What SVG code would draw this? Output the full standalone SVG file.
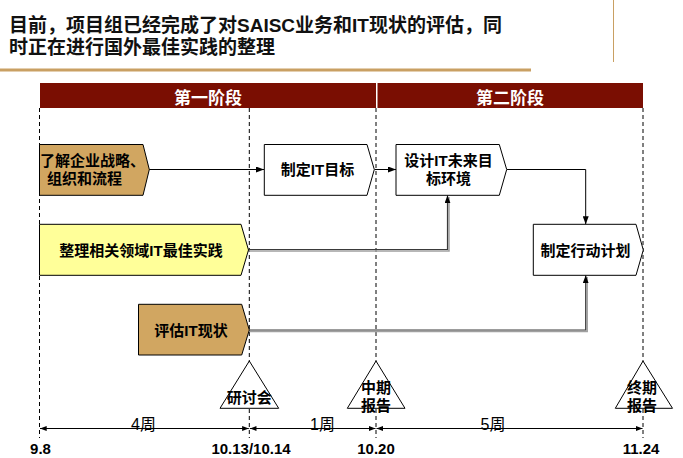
<svg xmlns="http://www.w3.org/2000/svg" width="683" height="458" viewBox="0 0 683 458">
<defs>
<style>
text{font-family:"Liberation Sans","Noto Sans CJK SC",sans-serif;fill:#000}
.b{font-weight:bold}
.title{font-size:19px;font-weight:bold;fill:#111}
.ph{font-size:17px;font-weight:bold;fill:#fff;text-anchor:middle}
.nt{font-size:15px;font-weight:bold;text-anchor:middle}
.mt{font-size:15px;font-weight:bold;text-anchor:middle}
.dt{font-size:15px;font-weight:bold;text-anchor:middle}
.wk{font-size:16px;text-anchor:middle}
.dash{stroke:#000;stroke-width:1;stroke-dasharray:4 3;fill:none}
.node{stroke:#000;stroke-width:1}
.tan{fill:#D1A661}
.yel{fill:#FFFF99}
.wht{fill:#fff}
.conn{stroke:#000;stroke-width:1;fill:none}
.gconn{stroke:#3a3a3a;stroke-width:1.2;fill:none}
.shadow{stroke:#a0a0a0;stroke-width:1.5;fill:none}
.dim{stroke:#000;stroke-width:1;fill:none;marker-start:url(#dimhead);marker-end:url(#dimhead)}
</style>
<marker id="arrow" viewBox="0 0 8 6" refX="8" refY="3" markerWidth="8" markerHeight="6" markerUnits="userSpaceOnUse" orient="auto">
<path d="M0,0 L8,3 L0,6 Z" fill="#000"/>
</marker>
<marker id="dimhead" viewBox="0 0 8 6" refX="8" refY="3" markerWidth="7" markerHeight="5" markerUnits="userSpaceOnUse" orient="auto-start-reverse">
<path d="M0,0 L8,3 L0,6 Z" fill="#000"/>
</marker>
</defs>
<rect width="683" height="458" fill="#fff"/>

<g id="header">
<text class="title" x="9" y="32">目前，项目组已经完成了对SAISC业务和IT现状的评估，同</text>
<text class="title" x="9" y="54">时正在进行国外最佳实践的整理</text>
<line x1="0" y1="70" x2="531" y2="70" stroke="#C9A063" stroke-width="3"/>
<line x1="613.5" y1="0" x2="613.5" y2="62" stroke="#C9A063" stroke-width="1"/>
</g>

<g id="phases">
<g id="phase1">
<rect x="40" y="83" width="336" height="25" fill="#7A0E02"/>
<text class="ph" x="208" y="103.5">第一阶段</text>
</g>
<g id="phase2">
<rect x="377.5" y="83" width="265.5" height="25" fill="#7A0E02"/>
<text class="ph" x="510" y="103.5">第二阶段</text>
</g>
</g>

<g id="gridlines">
<line class="dash" x1="39.5" y1="108" x2="39.5" y2="438"/>
<line class="dash" x1="249.3" y1="108" x2="249.3" y2="438"/>
<line class="dash" x1="376" y1="108" x2="376" y2="438"/>
<line class="dash" x1="643" y1="108" x2="643" y2="438"/>
</g>

<g id="connectors">
<line class="conn" x1="149" y1="169.5" x2="264" y2="169.5" marker-end="url(#arrow)"/>
<line class="conn" x1="374.5" y1="169.5" x2="396" y2="169.5" marker-end="url(#arrow)"/>
<polyline class="conn" points="507,169.5 585.7,169.5 585.7,224.3" marker-end="url(#arrow)"/>
<polyline class="shadow" points="248.5,251 449,251 449,197"/>
<polyline class="gconn" points="248.5,249.5 447.5,249.5 447.5,195.3" marker-end="url(#arrow)"/>
<polyline class="shadow" points="249.5,331.5 587.2,331.5 587.2,277"/>
<polyline class="gconn" points="249.5,330 585.7,330 585.7,275.3" marker-end="url(#arrow)"/>
</g>

<g id="node-strategy">
<path class="node tan" d="M39.5,144.5 H143 L149.3,169.5 L143,195.3 H39.5 Z"/>
<text class="nt" x="40" y="166" style="text-anchor:start">了解企业战略、</text>
<text class="nt" x="84.5" y="184">组织和流程</text>
</g>

<g id="node-best-practice">
<path class="node yel" d="M39.5,224.3 H241 L248.5,250 L241,275.3 H39.5 Z"/>
<text class="nt" x="141" y="255.5">整理相关领域IT最佳实践</text>
</g>

<g id="node-assess">
<path class="node tan" d="M138.5,304.3 H241.7 L249.3,330 L241.7,355 H138.5 Z"/>
<text class="nt" x="191" y="335.5">评估IT现状</text>
</g>

<g id="node-it-goal">
<path class="node wht" d="M264.3,144.5 H367 L374.3,169.5 L367,195.3 H264.3 Z"/>
<text class="nt" x="317.5" y="175">制定IT目标</text>
</g>

<g id="node-it-future">
<path class="node wht" d="M396,144.5 H499.3 L506.7,169.5 L499.3,195.3 H396 Z"/>
<text class="nt" x="448.5" y="166">设计IT未来目</text>
<text class="nt" x="448.5" y="184">标环境</text>
</g>

<g id="node-action-plan">
<path class="node wht" d="M533.3,224.3 H636 L643.3,250 L636,275.3 H533.3 Z"/>
<text class="nt" x="585.5" y="256">制定行动计划</text>
</g>

<g id="milestone-workshop">
<path class="node wht" d="M249.3,361 L278.7,408.3 H220 Z"/>
<text class="mt" x="249.3" y="402.5">研讨会</text>
</g>

<g id="milestone-mid">
<path class="node wht" d="M376,361 L405,408.3 H347.3 Z"/>
<text class="mt" x="376" y="393">中期</text>
<text class="mt" x="376" y="411">报告</text>
</g>

<g id="milestone-final">
<path class="node wht" d="M643,361 L672.5,408.3 H615.3 Z"/>
<text class="mt" x="642" y="393">终期</text>
<text class="mt" x="642" y="411">报告</text>
</g>

<g id="timeline">
<line class="dim" x1="40" y1="428.5" x2="248.8" y2="428.5"/>
<line class="dim" x1="249.8" y1="428.5" x2="375.5" y2="428.5"/>
<line class="dim" x1="376.5" y1="428.5" x2="642.5" y2="428.5"/>
<text class="wk" x="143.5" y="430">4周</text>
<text class="wk" x="322.5" y="430">1周</text>
<text class="wk" x="493" y="430">5周</text>
<text class="dt" x="40.5" y="453.5">9.8</text>
<text class="dt" x="251" y="453.5">10.13/10.14</text>
<text class="dt" x="376" y="453.5">10.20</text>
<text class="dt" x="641" y="453.5">11.24</text>
</g>
</svg>
